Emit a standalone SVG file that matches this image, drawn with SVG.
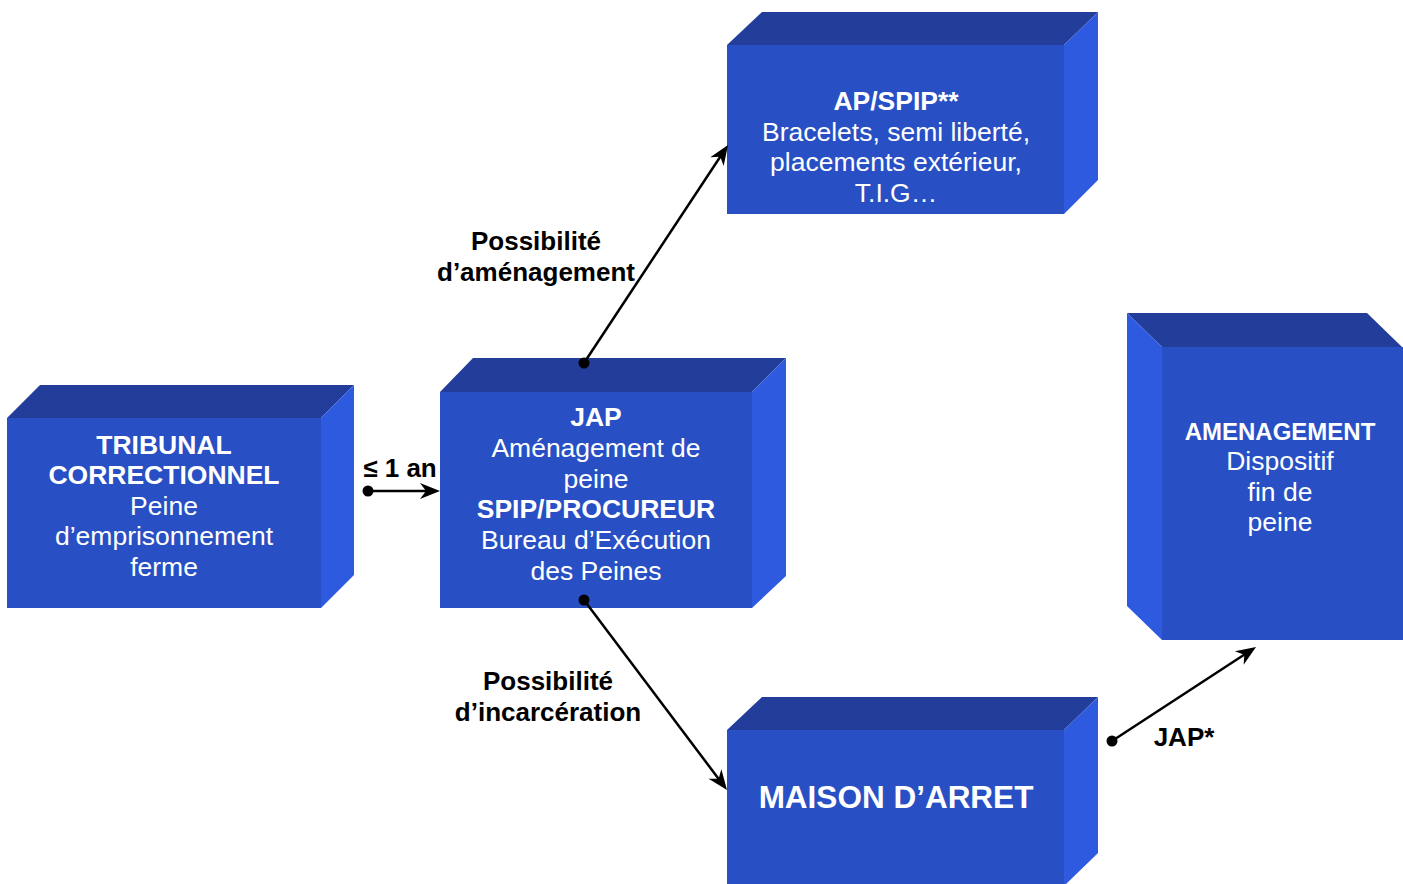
<svg xmlns="http://www.w3.org/2000/svg" width="1403" height="884" viewBox="0 0 1403 884">
<defs>
<style>
.front{fill:#284FC4}
.top{fill:#223D9A}
.side{fill:#2E5AE0}
.t{font-family:"Liberation Sans",Arial,sans-serif;font-size:26.5px;fill:#ffffff;text-anchor:middle}
.b{font-weight:bold}
.lbl{font-family:"Liberation Sans",Arial,sans-serif;font-size:26px;font-weight:bold;fill:#000000;text-anchor:middle}
.conn{stroke:#000000;stroke-width:2.5;fill:none;marker-end:url(#arr)}
</style>
<marker id="arr" viewBox="-21 -9 22 18" markerWidth="22" markerHeight="18" refX="-6" refY="0" orient="auto" markerUnits="userSpaceOnUse">
<path d="M-20,-8 L0,0 L-20,8 L-14,0 Z" fill="#000000"/>
</marker>
</defs>
<rect width="1403" height="884" fill="#ffffff"/>

<g id="tribunal">
<polygon class="top" points="7,418 40,385 354,385 321,418"/>
<polygon class="side" points="321,418 354,385 354,575 321,608"/>
<rect class="front" x="7" y="418" width="314" height="190"/>
<text class="t b" x="164" y="454">TRIBUNAL</text>
<text class="t b" x="164" y="484">CORRECTIONNEL</text>
<text class="t" x="164" y="515">Peine</text>
<text class="t" x="164" y="545">d’emprisonnement</text>
<text class="t" x="164" y="576">ferme</text>
</g>

<g id="jap">
<polygon class="top" points="440,392 473,358 786,358 752,392"/>
<polygon class="side" points="752,392 786,358 786,576 752,608"/>
<rect class="front" x="440" y="392" width="312" height="216"/>
<text class="t b" x="596" y="426">JAP</text>
<text class="t" x="596" y="457">Aménagement de</text>
<text class="t" x="596" y="488">peine</text>
<text class="t b" x="596" y="518">SPIP/PROCUREUR</text>
<text class="t" x="596" y="549">Bureau d’Exécution</text>
<text class="t" x="596" y="580">des Peines</text>
</g>

<g id="apspip">
<polygon class="top" points="727,45 762,12 1098,12 1064,45"/>
<polygon class="side" points="1064,45 1098,12 1098,180 1064,214"/>
<rect class="front" x="727" y="45" width="337" height="169"/>
<text class="t b" x="896" y="110">AP/SPIP**</text>
<text class="t" x="896" y="141">Bracelets, semi liberté,</text>
<text class="t" x="896" y="171">placements extérieur,</text>
<text class="t" x="896" y="202">T.I.G…</text>
</g>

<g id="amenagement">
<polygon class="top" points="1127,313 1367,313 1402,347 1162,347"/>
<polygon class="side" points="1127,313 1162,347 1162,640 1127,606"/>
<rect class="front" x="1162" y="347" width="241" height="293"/>
<text class="t b" x="1280" y="440" style="font-size:24px">AMENAGEMENT</text>
<text class="t" x="1280" y="470">Dispositif</text>
<text class="t" x="1280" y="501">fin de</text>
<text class="t" x="1280" y="531">peine</text>
</g>

<g id="maison">
<polygon class="top" points="727,730 762,697 1098,697 1064,730"/>
<polygon class="side" points="1064,730 1098,697 1098,853 1064,886"/>
<rect class="front" x="727" y="730" width="337" height="160"/>
<text class="t b" x="896" y="808" style="font-size:31.5px">MAISON D’ARRET</text>
</g>

<g id="connectors">
<line class="conn" x1="368" y1="491" x2="434" y2="491"/>
<circle cx="368" cy="491" r="5.5" fill="#000"/>
<line class="conn" x1="584" y1="363" x2="724.7" y2="150"/>
<circle cx="584" cy="363" r="5.5" fill="#000"/>
<line class="conn" x1="584" y1="600" x2="723.4" y2="785.2"/>
<circle cx="584" cy="600" r="5.5" fill="#000"/>
<line class="conn" x1="1112" y1="741" x2="1251" y2="650.3"/>
<circle cx="1112" cy="741" r="5.5" fill="#000"/>
</g>

<g id="labels">
<text class="lbl" x="400" y="477">≤ 1 an</text>
<text class="lbl" x="536" y="250">Possibilité</text>
<text class="lbl" x="536" y="281">d’aménagement</text>
<text class="lbl" x="548" y="690">Possibilité</text>
<text class="lbl" x="548" y="721">d’incarcération</text>
<text class="lbl" x="1184" y="746">JAP*</text>
</g>
</svg>
